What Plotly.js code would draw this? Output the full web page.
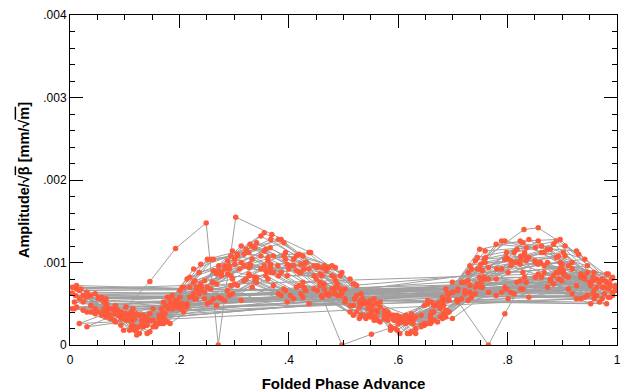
<!DOCTYPE html>
<html>
<head>
<meta charset="utf-8">
<script src="https://cdn.plot.ly/plotly-3.0.1.min.js"></script>
<style>html,body{margin:0;padding:0;background:#fff;}#chart{width:621px;height:392px;}</style>
</head>
<body>
<div id="chart"></div>
<script>
// Folded phase positions of the monitors, one list per measurement set
const phaseS01 = [0.004,0.062,0.118,0.187,0.251,0.322,0.386,0.452,0.518,0.581,0.648,0.716,0.789,0.862,0.941];
const phaseS02 = [0.031,0.093,0.152,0.214,0.283,0.341,0.409,0.473,0.541,0.603,0.672,0.741,0.812,0.884,0.968];
const phaseS03 = [0.058,0.127,0.178,0.239,0.306,0.367,0.431,0.497,0.562,0.627,0.693,0.759,0.834,0.905,0.987];
const phaseS04 = [0.017,0.081,0.141,0.201,0.268,0.333,0.397,0.461,0.529,0.592,0.659,0.728,0.801,0.873,0.952];
const phaseS05 = [0.102,0.163,0.226,0.294,0.355,0.419,0.485,0.551,0.614,0.683,0.749,0.823,0.896,0.977];
const phaseS06 = [0.046,0.109,0.171,0.231,0.297,0.362,0.426,0.489,0.556,0.621,0.687,0.754,0.828,0.899,0.958];
const phaseS07 = [0.012,0.074,0.134,0.196,0.262,0.327,0.391,0.457,0.524,0.586,0.654,0.722,0.795,0.867,0.946];
const phaseS08 = [0.083,0.146,0.208,0.277,0.338,0.403,0.468,0.535,0.598,0.665,0.734,0.806,0.878,0.934,0.992];
const phaseS09 = [0.024,0.088,0.157,0.219,0.288,0.349,0.414,0.479,0.545,0.609,0.677,0.745,0.817,0.889,0.963];
const phaseS10 = [0.066,0.122,0.183,0.246,0.313,0.372,0.437,0.503,0.567,0.632,0.699,0.765,0.839,0.911,0.981];
const phaseS11 = [0.038,0.098,0.167,0.228,0.291,0.358,0.422,0.483,0.549,0.617,0.681,0.751,0.824,0.893,0.973];
const phaseS12 = [0.115,0.174,0.236,0.301,0.366,0.428,0.494,0.559,0.624,0.691,0.757,0.831,0.902,0.956];
const phaseS13 = [0.008,0.069,0.131,0.192,0.257,0.318,0.381,0.446,0.512,0.575,0.642,0.709,0.779,0.851,0.926,0.997];
const phaseS14 = [0.052,0.113,0.139,0.205,0.272,0.329,0.394,0.465,0.532,0.595,0.661,0.731,0.798,0.856,0.918,0.984];
const phaseX1 = [0.02,0.09,0.146,0.193,0.249,0.271,0.303,0.369,0.44,0.52,0.60,0.69,0.76,0.83,0.856,0.93,0.99];
const phaseX2 = [0.03,0.11,0.18,0.26,0.33,0.40,0.46,0.497,0.551,0.62,0.70,0.78,0.86,0.95];
const phaseX3 = [0.01,0.10,0.17,0.24,0.31,0.38,0.45,0.52,0.60,0.707,0.765,0.795,0.85,0.94];

// Amplitude/sqrt(beta) per turn, in units of 1e-5 mm/sqrt(m)
const amp01a = [63,52,22,60,70,112,88,96,48,40,26,76,92,112,80];
const amp02a = [40,24,44,46,92,82,96,62,52,14,50,70,100,84,78];
const amp03a = [56,14,58,74,108,98,100,66,50,34,54,100,102,108,70];
const amp04a = [66,30,28,58,74,104,84,84,46,32,32,78,88,100,72];
const amp05a = [38,32,76,84,114,88,78,40,28,48,92,98,100,70];
const amp06a = [44,36,32,70,80,102,76,74,34,30,42,90,88,96,66];
const amp07a = [68,32,36,46,90,94,108,76,60,22,50,66,104,96,88];
const amp08a = [28,38,40,84,82,96,62,56,18,48,58,96,80,82,60];
const amp09a = [52,42,24,70,86,108,90,84,44,30,44,92,100,106,70];
const amp10a = [50,20,52,64,100,88,92,56,46,20,64,80,106,82,76];
const amp11a = [48,38,34,78,92,116,88,82,44,34,48,98,104,108,70];
const amp12a = [34,38,88,98,118,92,84,42,32,56,104,108,112,78];
const amp13a = [52,46,24,54,68,96,84,84,48,42,22,66,80,100,72,72];
const amp14a = [56,24,34,50,96,98,112,74,62,20,52,72,112,98,100,68];
const amp01b = [44,40,18,44,50,80,60,66,36,34,24,56,64,82,58];
const amp02b = [64,32,30,80,96,124,104,94,50,32,48,102,112,122,76];
const amp03b = [36,36,28,66,72,88,66,62,30,30,40,80,76,84,58];
const amp04b = [26,42,24,44,48,70,52,58,32,36,26,54,56,70,50];
const amp05b = [46,26,62,72,96,72,70,36,36,38,82,78,92,62];
const amp06b = [62,18,52,68,114,106,108,70,56,14,68,90,124,98,88];
const amp07b = [46,44,22,50,56,86,68,72,40,36,26,62,70,88,60];
const amp08b = [38,16,70,88,118,96,90,50,30,40,92,102,116,86,82];
const amp09b = [42,40,26,58,66,92,70,68,36,32,34,74,76,88,60];
const amp10b = [56,12,58,78,120,108,112,68,52,14,76,94,128,96,86];
const amp11b = [40,38,26,56,60,84,62,62,34,34,32,70,68,80,56];
const amp12b = [44,30,68,74,96,70,68,34,38,40,82,82,90,62];
const amp13b = [70,38,30,50,104,110,128,96,80,32,36,68,122,118,114,70];
const amp14b = [40,40,24,50,58,84,66,68,36,34,28,64,68,86,62,58];
const amp01c = [70,44,32,50,104,116,128,94,74,30,48,76,126,120,104];
const amp02c = [22,40,22,50,54,76,56,60,32,34,28,62,62,74,52];
const amp03c = [58,22,46,98,110,128,100,88,40,26,62,114,118,120,74];
const amp04c = [56,44,14,66,86,120,98,94,52,30,36,88,104,116,76];
const amp05c = [30,36,92,108,136,110,94,48,26,54,116,126,128,78];
const amp06c = [38,38,26,56,62,80,58,60,30,34,34,70,68,78,56];
const amp07c = [72,36,28,54,104,112,124,86,72,18,54,76,126,112,96];
const amp08c = [48,30,46,56,78,60,62,36,36,30,60,64,78,56,64];
const amp09c = [60,36,22,82,102,132,108,96,50,28,52,106,116,126,80];
const amp10c = [34,38,26,56,54,72,50,52,28,34,32,64,58,68,50];
const amp11c = [60,18,44,56,96,90,98,64,54,14,58,76,108,88,80];
const amp12c = [30,48,62,104,92,98,60,50,16,62,80,112,86,82];
const amp13c = [44,44,24,46,52,78,62,68,40,38,24,52,60,82,56,66];
const amp14c = [58,20,26,70,90,122,104,96,54,30,40,96,106,126,92,86];
const ampX1 = [68,36,77,117,148,0,155,134,112,74,30,62,106,140,142,110,80];
const ampX2 = [58,30,44,76,96,92,60,0,13,28,64,92,100,76];
const ampX3 = [60,32,40,70,92,96,80,56,26,55,0,38,102,84];

const xTickVals = [0,0.2,0.4,0.6,0.8,1];
const xTickText = ['0','.2','.4','.6','.8','1'];
const yTickVals = [0,0.001,0.002,0.003,0.004];
const yTickText = ['0','.001','.002','.003','.004'];

// Turns in recording order: [phases, amplitudes]
const sequence = [
  [phaseS01,amp01a],[phaseS02,amp02a],[phaseS03,amp03a],[phaseS04,amp04a],[phaseS05,amp05a],
  [phaseS06,amp06a],[phaseS07,amp07a],[phaseX1,ampX1],[phaseS08,amp08a],[phaseS09,amp09a],
  [phaseS10,amp10a],[phaseS11,amp11a],[phaseS12,amp12a],[phaseS13,amp13a],[phaseS14,amp14a],
  [phaseS01,amp01b],[phaseS02,amp02b],[phaseS03,amp03b],[phaseS04,amp04b],[phaseX2,ampX2],
  [phaseS05,amp05b],[phaseS06,amp06b],[phaseS07,amp07b],[phaseS08,amp08b],[phaseS09,amp09b],
  [phaseS10,amp10b],[phaseS11,amp11b],[phaseS12,amp12b],[phaseS13,amp13b],[phaseS14,amp14b],
  [phaseS01,amp01c],[phaseS02,amp02c],[phaseS03,amp03c],[phaseS04,amp04c],[phaseS05,amp05c],
  [phaseX3,ampX3],[phaseS06,amp06c],[phaseS07,amp07c],[phaseS08,amp08c],[phaseS09,amp09c],
  [phaseS10,amp10c],[phaseS11,amp11c],[phaseS12,amp12c],[phaseS13,amp13c],[phaseS14,amp14c]
];

const xs = [], ys = [];
sequence.forEach(([p,a])=>{ p.forEach((ph,j)=>{ xs.push(ph); ys.push(a[j]*1e-5); }); });

const trace = {
  x: xs, y: ys, type: 'scatter', mode: 'lines+markers',
  line: {color: '#a0a0a0', width: 1},
  marker: {color: '#ff5a3c', size: 5.5},
  hoverinfo: 'x+y', showlegend: false
};

const axisCommon = {
  showgrid: false, zeroline: false, showline: true, linecolor: '#000', linewidth: 1,
  mirror: 'allticks', ticks: 'inside', ticklen: 13, tickcolor: '#000', tickwidth: 1,
  tickmode: 'array', tickfont: {family: 'Liberation Sans, Arial, sans-serif', size: 12, color: '#000'}
};

const layout = {
  width: 621, height: 392,
  margin: {l: 70, r: 4, t: 15, b: 47},
  paper_bgcolor: '#fff', plot_bgcolor: '#fff',
  font: {family: 'Liberation Sans, Arial, sans-serif', color: '#000'},
  xaxis: Object.assign({}, axisCommon, {
    range: [0, 1], tickvals: xTickVals, ticktext: xTickText, ticklabelstandoff: 4,
    minor: {tickmode: 'linear', tick0: 0, dtick: 0.05, ticks: 'inside', ticklen: 5, tickcolor: '#000'},
    title: {text: 'Folded Phase Advance', font: {size: 15, weight: 'bold', color: '#000'}, standoff: 12}
  }),
  yaxis: Object.assign({}, axisCommon, {
    range: [0, 0.004], tickvals: yTickVals, ticktext: yTickText,
    minor: {tickmode: 'linear', tick0: 0, dtick: 0.0002, ticks: 'inside', ticklen: 5, tickcolor: '#000'},
    title: {text: 'Amplitude/\u221A<span style="text-decoration:overline">\u03B2</span> [mm/\u221A<span style="text-decoration:overline">m</span>]',
            font: {size: 14.5, weight: 'bold', color: '#000'}, standoff: 10}
  })
};

Plotly.newPlot('chart', [trace], layout, {displayModeBar: false, staticPlot: true});
</script>
</body>
</html>
